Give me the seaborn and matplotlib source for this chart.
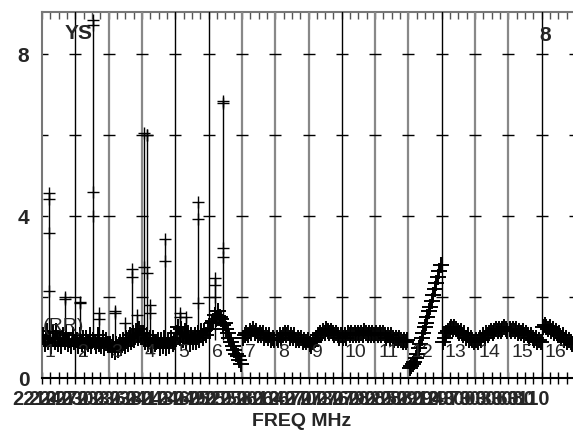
import numpy as np
import pandas as pd
import seaborn as sns
import matplotlib
matplotlib.use('Agg')
import matplotlib.pyplot as plt
import matplotlib.transforms as mtransforms

# band values per segment
seg1 = [1.05, 0.85, 1.15, 0.9, 1.0, 0.8, 1.1, 0.9, 1.15, 0.85, 1.0, 0.8, 1.05, 0.9, 1.1, 0.85, 0.95, 0.8, 1.05, 0.9]
seg2 = [0.95, 0.8, 1.05, 0.85, 1.0, 0.75, 1.0, 0.85, 1.05, 0.8, 0.95, 0.9, 0.8, 1.05, 0.85, 0.8, 1.0, 0.75, 0.95, 0.85]
seg3 = [0.85, 0.7, 0.9, 0.65, 0.85, 0.7, 0.9, 0.75, 0.95, 0.8, 1.0, 0.85, 1.05, 0.9, 1.1, 0.95, 1.15, 1.0, 1.2, 1.1]
seg4 = [1.1, 0.9, 1.05, 0.85, 1.0, 0.8, 1.0, 0.85, 0.9, 0.95, 0.75, 0.95, 0.8, 1.0, 0.75, 0.95, 0.8, 1.0, 0.85, 0.9]
seg5 = [1.1, 1.25, 1.0, 1.2, 0.95, 1.15, 0.9, 1.1, 0.85, 1.05, 0.9, 1.05, 0.9, 1.1, 0.95, 1.15, 1.0, 1.15, 1.05, 1.2]
seg6 = [1.2, 1.35, 1.4, 1.55, 1.45, 1.65, 1.5, 1.45, 1.3, 1.35, 1.2, 1.1, 1.0, 0.9, 0.8, 0.7, 0.6, 0.55, 0.45, 0.35]
seg7 = [1.0, 1.05, 1.1, 1.05, 1.15, 1.1, 1.2, 1.1, 1.15, 1.05, 1.1, 1.05, 1.1, 1.0, 1.05, 1.0, 1.05, 0.95, 1.0, 0.95]
seg8 = [1.0, 0.95, 1.05, 1.0, 1.05, 1.1, 1.05, 1.1, 1.0, 1.05, 1.0, 1.05, 0.95, 1.0, 0.95, 1.0, 0.9, 0.95, 0.9, 0.95]
seg9 = [0.85, 0.8, 0.9, 0.95, 1.0, 1.05, 1.1, 1.05, 1.15, 1.1, 1.2, 1.15, 1.1, 1.15, 1.1, 1.05, 1.1, 1.05, 1.0, 1.05]
seg10 = [1.0, 1.05, 1.0, 1.1, 1.05, 1.1, 1.05, 1.1, 1.05, 1.1, 1.05, 1.1, 1.05, 1.15, 1.1, 1.05, 1.1, 1.05, 1.1, 1.05]
seg11 = [1.1, 1.05, 1.1, 1.05, 1.1, 1.05, 1.0, 1.05, 1.0, 1.05, 1.0, 0.95, 1.0, 0.95, 1.0, 0.95, 0.9, 0.95, 0.9, 0.95]
seg12 = [0.25, 0.3, 0.35, 0.4, 0.5, 0.6, 0.75, 0.85, 1.0, 1.1, 1.25, 1.35, 1.5, 1.65, 1.75, 1.9, 2.05, 2.2, 2.35, 2.5, 2.65, 2.8]
seg13 = [0.9, 1.0, 1.1, 1.15, 1.2, 1.25, 1.2, 1.25, 1.2, 1.15, 1.1, 1.15, 1.05, 1.1, 1.0, 1.05, 0.95, 1.0, 0.95, 0.9]
seg14 = [0.95, 0.9, 1.0, 0.95, 1.05, 1.0, 1.1, 1.05, 1.1, 1.15, 1.1, 1.15, 1.2, 1.15, 1.2, 1.15, 1.2, 1.25, 1.2, 1.15]
seg15 = [1.2, 1.15, 1.2, 1.15, 1.2, 1.1, 1.15, 1.1, 1.15, 1.05, 1.1, 1.05, 1.0, 1.05, 1.0, 0.95, 1.0, 0.9, 0.95, 0.9]
seg16 = [1.25, 1.3, 1.25, 1.2, 1.25, 1.15, 1.2, 1.1, 1.15, 1.05, 1.1, 1.0, 1.05, 0.95, 1.0, 0.9, 0.95, 0.9, 0.85, 0.9]
segments = [seg1, seg2, seg3, seg4, seg5, seg6, seg7, seg8,
            seg9, seg10, seg11, seg12, seg13, seg14, seg15, seg16]

# spikes: position (segment units), top value, extra '+' marks
spike_pos = [0.2, 0.69, 1.14, 1.52, 1.71, 2.19, 2.49, 2.69, 2.85, 3.05, 3.15, 3.24, 3.69,
             4.14, 4.32, 4.68, 5.19, 5.42]
spike_top = [4.57, 2.0, 1.88, 8.85, 1.6, 1.65, 1.36, 2.7, 1.55, 6.05, 6.0, 1.8, 3.43,
             1.6, 1.5, 4.35, 2.47, 6.85]
spike_marks = [[4.42, 3.58, 2.15], [1.95], [1.85], [8.72, 4.6, 4.0], [1.45], [1.6], [],
               [2.5], [], [2.74], [6.0, 2.6], [1.6], [2.9],
               [1.5], [], [3.93, 1.85], [2.3, 2.0], [6.8, 3.2, 3.0]]

freq_labels = ['2210', '2240', '2270', '2300', '2330', '2360', '2380', '2410',
               '2430', '2460', '2490', '2520', '2550', '2580', '2610', '2640',
               '2670', '2700', '2730', '2760', '2790', '2820', '2850', '2880',
               '2910', '2940', '2970', '3000', '3030', '3060', '3080', '3110']
seg_names = [str(i) for i in range(1, 17)]
grid_dark = [1, 0, 0, 1, 1, 0, 0, 0, 1, 0, 0, 1, 0, 0, 1]

sns.set_style('white')
plt.rcParams['font.family'] = ['Liberation Sans', 'DejaVu Sans']

rows = []
for i, vals in enumerate(segments):
    pos = np.linspace(0.04, 0.97, len(vals))
    for p, v in zip(pos, vals):
        rows.append((i + 1, i + p, v))
df = pd.DataFrame(rows, columns=['seg', 'x', 'y'])

fig = plt.figure(figsize=(5.73, 4.34), dpi=100)
ax = fig.add_axes([42 / 573, 56 / 434, 533 / 573, 366 / 434])
ax.set_xlim(0, 16)
ax.set_ylim(0, 9.04)

# vertical segment lines
for k, dark in zip(range(1, 16), grid_dark):
    if dark:
        ax.axvline(k, color='black', lw=1.0, zorder=1)
    else:
        ax.axvline(k, color='#888888', lw=1.6, zorder=1)

# small crosses on the grid lines
for yv in [2, 4, 6, 8]:
    ax.plot(np.arange(0, 17), [yv] * 17, ls='none', marker='_', ms=9,
            mew=1, color='black', zorder=2)

sns.lineplot(data=df, x='x', y='y', units='seg', estimator=None, color='black',
             lw=1.8, marker='+', markersize=11, markeredgewidth=1.4,
             markeredgecolor='black', markerfacecolor='black', ax=ax,
             legend=False, zorder=3)

for xp, top, marks in zip(spike_pos, spike_top, spike_marks):
    ax.vlines(xp, 0.95, top, color='black', lw=1, zorder=3)
    ax.plot([xp] * (len(marks) + 1), [top] + marks, ls='none', marker='+',
            ms=9, mew=1, color='black', zorder=3)

# ticks
ax.set_xticks(np.arange(0, 16.01, 0.25))
ax.set_xticklabels([])
ax.tick_params(axis='x', direction='inout', length=9, width=1, bottom=True,
               top=False, color='black')
sec = ax.secondary_xaxis('top')
sec.set_xticks(np.arange(0, 16.01, 0.25))
sec.tick_params(axis='x', direction='in', length=5, width=1, labeltop=False,
                color='#555555')
sec.spines['top'].set_color('#777777')
sec.spines['top'].set_linewidth(1.5)

ax.set_yticks([0, 4, 8])
ax.set_yticklabels(['0', '4', '8'], fontsize=15, fontweight='bold')
ax.tick_params(axis='y', length=0, pad=9)

for side in ['top', 'right']:
    ax.spines[side].set_visible(False)
ax.spines['left'].set_color('#777777')
ax.spines['left'].set_linewidth(1.5)
ax.spines['bottom'].set_color('black')
ax.spines['bottom'].set_linewidth(1.5)
ax.set_xlabel('')
ax.set_ylabel('')

trans = mtransforms.blended_transform_factory(ax.transData, ax.transAxes)
lab_pos = -0.21 + 0.478 * np.arange(len(freq_labels))
for xp, lab in zip(lab_pos, freq_labels):
    ax.text(xp, -0.06, lab, transform=trans, ha='center', va='center',
            fontsize=14.5, fontweight='bold', clip_on=False)
ax.text(7.8, -0.119, 'FREQ MHz', transform=trans, ha='center',
        va='center', fontsize=14, fontweight='bold')

for k, name in enumerate(seg_names):
    ax.text(k + 0.09, 0.62, name, ha='left', va='center', fontsize=14, zorder=4)

ax.text(0.69, 8.52, 'YS', ha='left', va='center', fontsize=15, fontweight='bold')
ax.text(15.1, 8.47, '8', ha='center', va='center', fontsize=15, fontweight='bold')
ax.text(0.03, 1.27, '(RR)', ha='left', va='center', fontsize=14, zorder=4)

fig.savefig('out.png', dpi=100)
